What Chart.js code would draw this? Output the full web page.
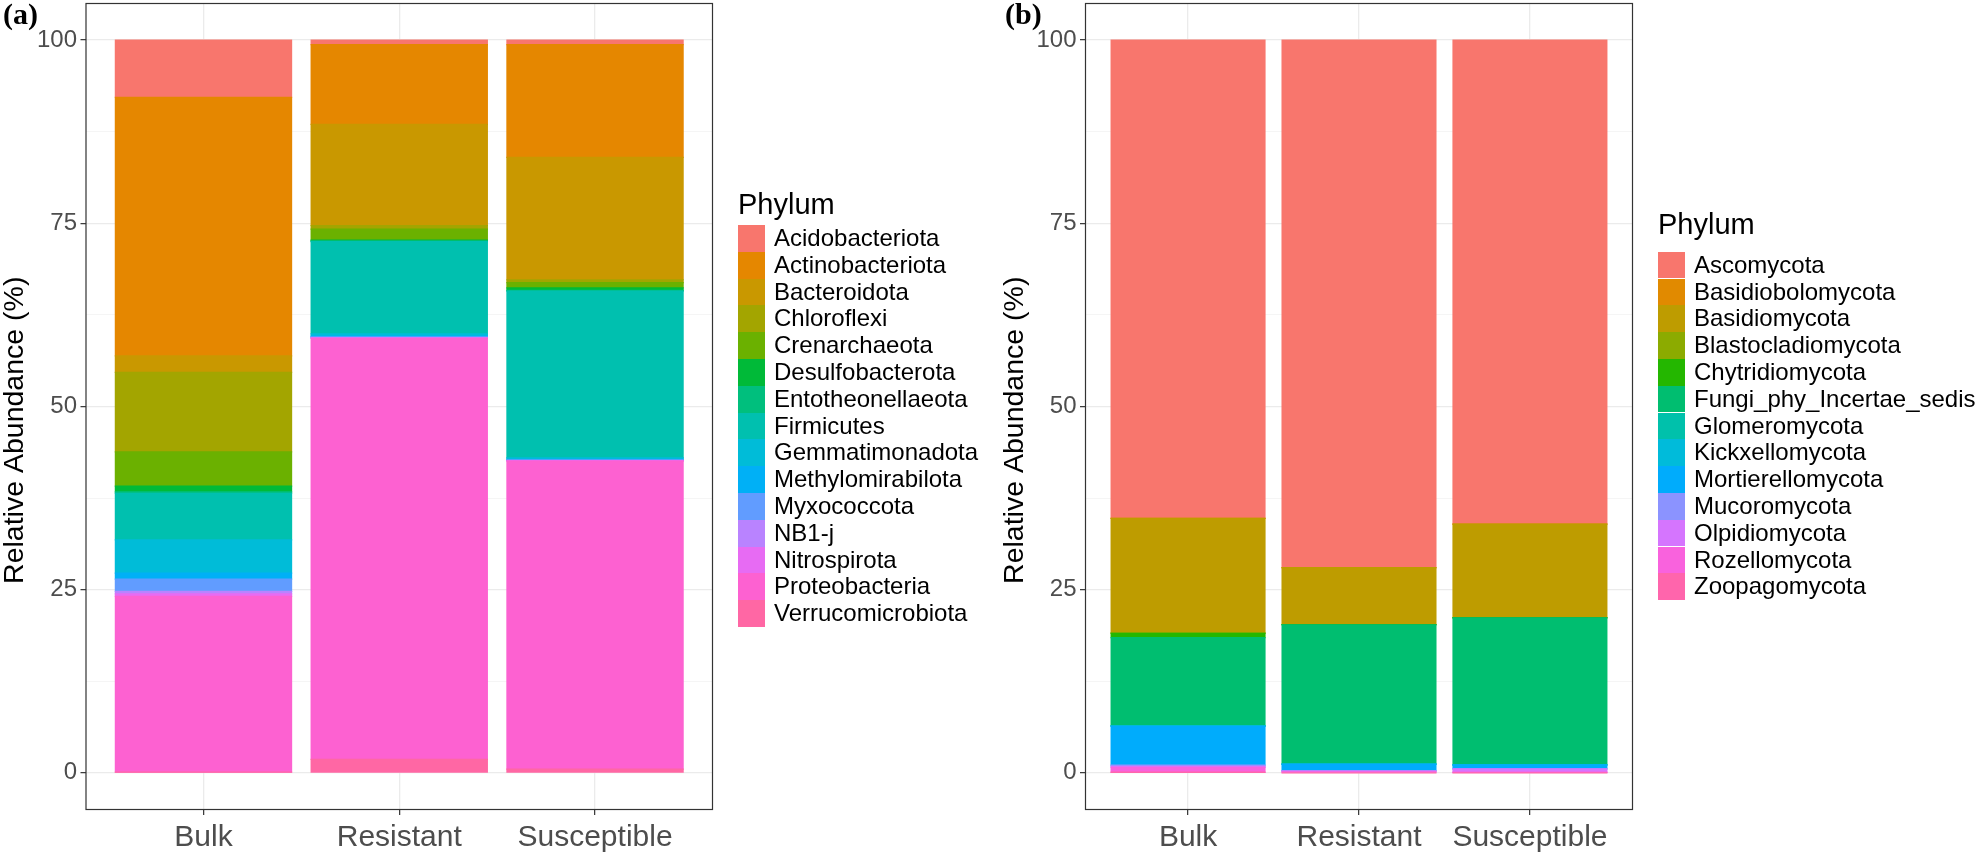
<!DOCTYPE html>
<html lang="en">

<head>
    <meta charset="UTF-8">
    <script src="https://cdn.jsdelivr.net/npm/chart.js"></script>
    <title>Relative Abundance by Phylum</title>
    <style>
        body { margin: 0; background: #fff; }
        .stage { position: relative; width: 1985px; height: 853px; overflow: hidden; font-family: 'Liberation Sans', Arial, Helvetica, sans-serif; }
        canvas { position: absolute; top: 0; }
        .panel_tag { position: absolute; top: -1px; font: bold 30px/30px 'Liberation Serif', 'Times New Roman', serif; color: #000; }
        .legend_title { position: absolute; font-size: 29px; line-height: 29px; color: #000; }
        .legend_key { position: absolute; width: 27px; }
        .legend_label { position: absolute; font-size: 24px; color: #000; white-space: nowrap; }
    </style>
</head>

<body>
    <div class="stage">
        <canvas id="bacteriaChart" width="990" height="853" style="left:0"></canvas>
        <canvas id="fungiChart" width="995" height="853" style="left:990px"></canvas>
        <div class="panel_tag" style="left:3px">(a)</div>
        <div class="panel_tag" style="left:1005px">(b)</div>
        <div id="legendA"></div>
        <div id="legendB"></div>
    </div>

    <script>
        // categorias e ticks
        const categories = ['Bulk', 'Resistant', 'Susceptible'];
        const yMajorTicks = [0, 25, 50, 75, 100];
        const yMinorTicks = [12.5, 37.5, 62.5, 87.5];
        const yTickLabels = ['0', '25', '50', '75', '100'];

        // (a) bacterias
        const bacteriaPhyla = ['Acidobacteriota', 'Actinobacteriota', 'Bacteroidota', 'Chloroflexi', 'Crenarchaeota',
            'Desulfobacterota', 'Entotheonellaeota', 'Firmicutes', 'Gemmatimonadota', 'Methylomirabilota',
            'Myxococcota', 'NB1-j', 'Nitrospirota', 'Proteobacteria', 'Verrucomicrobiota'];
        const bacteriaBulk = [7.8, 35.3, 2.24, 10.86, 4.67, 0.77, 0.2, 6.36, 4.53, 0.82, 1.68, 0.35, 0.33, 24.0, 0.09];
        const bacteriaResistant = [0.6, 10.9, 13.8, 0.5, 1.5, 0.1, 0.1, 12.6, 0.3, 0.1, 0.1, 0.05, 0.05, 57.45, 1.85];
        const bacteriaSusceptible = [0.6, 15.4, 16.7, 0.4, 0.7, 0.35, 0.1, 22.75, 0.2, 0.1, 0.05, 0.05, 0.05, 42.05, 0.5];

        // (b) fungos
        const fungiPhyla = ['Ascomycota', 'Basidiobolomycota', 'Basidiomycota', 'Blastocladiomycota', 'Chytridiomycota',
            'Fungi_phy_Incertae_sedis', 'Glomeromycota', 'Kickxellomycota', 'Mortierellomycota', 'Mucoromycota',
            'Olpidiomycota', 'Rozellomycota', 'Zoopagomycota'];
        const fungiBulk = [65.26, 0, 15.64, 0.05, 0.6, 12.0, 0.05, 0.05, 5.3, 0.15, 0.15, 0.7, 0.05];
        const fungiResistant = [72.0, 0, 7.75, 0, 0.05, 19.0, 0, 0, 0.9, 0.05, 0.1, 0.15, 0];
        const fungiSusceptible = [66.05, 0, 12.75, 0, 0.05, 20.05, 0, 0, 0.55, 0, 0.5, 0.05, 0];

        // paleta padrao do ggplot
        const bacteriaColors = ['#F8766D', '#E58700', '#C99800', '#A3A500', '#6BB100', '#00BA38', '#00BF7D', '#00C0AF',
            '#00BCD8', '#00B0F6', '#619CFF', '#B983FF', '#E76BF3', '#FD61D1', '#FF67A4'];
        const fungiColors = ['#F8766D', '#E18A00', '#BE9C00', '#8CAB00', '#24B700', '#00BE70', '#00C1AB', '#00BBDA',
            '#00ACFC', '#8B93FF', '#D575FE', '#F962DD', '#FF65AC'];

        const FONT = "'Liberation Sans', Arial, Helvetica, sans-serif";

        const panelBorder = {
            id: 'panelBorder',
            afterDraw(chart) {
                const { ctx, chartArea: a } = chart;
                ctx.save();
                ctx.strokeStyle = '#333333';
                ctx.lineWidth = 1.2;
                ctx.strokeRect(a.left, a.top, a.right - a.left, a.bottom - a.top);
                ctx.restore();
            }
        };

        function isMajor(v) {
            return yMajorTicks.includes(v);
        }

        function gerarPainel(canvasId, phyla, colors, series, padding) {
            const datasets = [];
            // ggplot empilha o primeiro nivel no topo
            for (let i = phyla.length - 1; i >= 0; i--) {
                datasets.push({
                    label: phyla[i],
                    data: series.map((s, j) => ({ x: j + 1, y: s[i] })),
                    backgroundColor: colors[i],
                    borderWidth: 0,
                    inflateAmount: 0.6,
                    categoryPercentage: 0.9,
                    barPercentage: 1.0
                });
            }

            new Chart(document.getElementById(canvasId), {
                type: 'bar',
                data: { datasets },
                options: {
                    responsive: false,
                    animation: false,
                    layout: { padding },
                    plugins: { legend: { display: false }, tooltip: { enabled: false } },
                    scales: {
                        x: {
                            type: 'linear',
                            stacked: true,
                            offset: false,
                            min: 0.4,
                            max: 3.6,
                            afterBuildTicks: scale => { scale.ticks = categories.map((c, i) => ({ value: i + 1 })); },
                            afterFit: scale => { scale.height = 853 - 809.5; scale.paddingLeft = 0; scale.paddingRight = 0; },
                            ticks: {
                                autoSkip: false,
                                maxRotation: 0,
                                padding: 5,
                                color: '#4D4D4D',
                                font: { family: FONT, size: 30 },
                                callback: v => categories[v - 1]
                            },
                            grid: { offset: false, color: '#EBEBEB', lineWidth: 1.3, tickLength: 5.5, tickColor: '#333333', tickWidth: 1.2 },
                            border: { display: false }
                        },
                        y: {
                            stacked: true,
                            min: -5,
                            max: 105,
                            afterBuildTicks: scale => {
                                scale.ticks = yMajorTicks.concat(yMinorTicks).sort((a, b) => a - b).map(v => ({ value: v }));
                            },
                            afterFit: scale => { scale.width = 86; scale.paddingTop = 0; scale.paddingBottom = 0; },
                            ticks: {
                                autoSkip: false,
                                padding: 3.5,
                                color: '#4D4D4D',
                                font: { family: FONT, size: 24 },
                                callback: v => isMajor(v) ? yTickLabels[yMajorTicks.indexOf(v)] : ''
                            },
                            grid: {
                                color: c => (c.tick && !isMajor(c.tick.value)) ? '#F2F2F2' : '#EBEBEB',
                                lineWidth: c => (c.tick && !isMajor(c.tick.value)) ? 0.8 : 1.3,
                                tickLength: 5.5,
                                tickColor: c => (c.tick && !isMajor(c.tick.value)) ? 'rgba(0,0,0,0)' : '#333333',
                                tickWidth: 1.2
                            },
                            border: { display: false },
                            title: {
                                display: true,
                                // espacos no fim descem o titulo, como no original
                                text: 'Relative Abundance (%)\u00A0\u00A0\u00A0\u00A0\u00A0\u00A0',
                                color: '#000',
                                font: { family: FONT, size: 28.5, lineHeight: 1 },
                                padding: { top: 1, bottom: 0 }
                            }
                        }
                    }
                },
                plugins: [panelBorder]
            });
        }

        function gerarLegenda(idLegenda, phyla, colors, left, titleTop, keysTop) {
            const box = document.getElementById(idLegenda);
            const rowH = 26.8;
            let html = `<div class="legend_title" style="left:${left}px;top:${titleTop}px">Phylum</div>`;
            phyla.forEach((p, i) => {
                const top = keysTop + i * rowH;
                html += `<div class="legend_key" style="left:${left}px;top:${top}px;height:${rowH}px;background:${colors[i]}"></div>`;
                html += `<div class="legend_label" style="left:${left + 36}px;top:${top}px;height:${rowH}px;line-height:${rowH}px">${p}</div>`;
            });
            box.innerHTML = html;
        }

        gerarPainel('bacteriaChart', bacteriaPhyla, bacteriaColors,
            [bacteriaBulk, bacteriaResistant, bacteriaSusceptible],
            { left: 0, right: 277.5, top: 3.5, bottom: 0 });
        gerarPainel('fungiChart', fungiPhyla, fungiColors,
            [fungiBulk, fungiResistant, fungiSusceptible],
            { left: 9.5, right: 352.5, top: 3.5, bottom: 0 });

        gerarLegenda('legendA', bacteriaPhyla, bacteriaColors, 738, 190, 225);
        gerarLegenda('legendB', fungiPhyla, fungiColors, 1658, 210, 251.7);
    </script>
</body>

</html>
